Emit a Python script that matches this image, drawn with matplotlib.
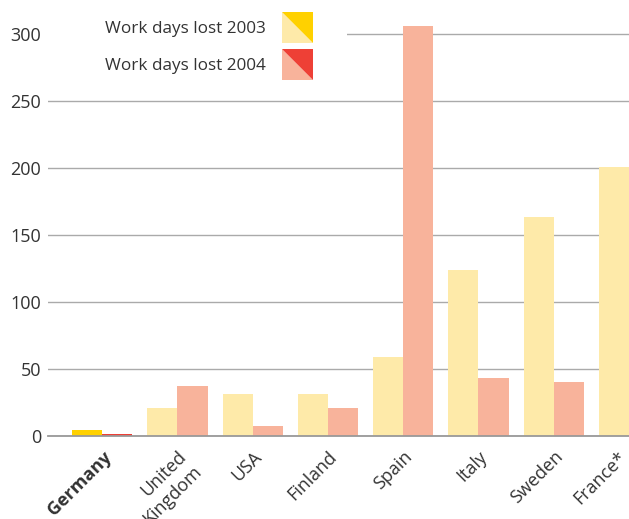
import numpy as np
import matplotlib
matplotlib.use("agg")
import matplotlib.pyplot as plt
import matplotlib.transforms as mtransforms
from matplotlib.patches import Polygon, Patch, Rectangle
from matplotlib.legend_handler import HandlerBase

plt.rcParams['font.family'] = ['Open Sans', 'DejaVu Sans']

countries = ["Germany", "United\nKingdom", "USA", "Finland", "Spain", "Italy", "Sweden", "France*"]
lost_2003 = [4.5, 21, 31, 31, 59, 124, 163.5, 201]
lost_2004 = [1.5, 37, 7.5, 21, 306, 43, 40, 0]

light03, dark03 = "#FEEAA9", "#FFD100"
light04, dark04 = "#F8B39B", "#EE4036"
txt = "#333333"
grey = "#aaaaaa"


class TriHandler(HandlerBase):
    def __init__(self, light, dark):
        super().__init__()
        self.light = light
        self.dark = dark

    def create_artists(self, legend, orig_handle, xdescent, ydescent,
                       width, height, fontsize, trans):
        x0, y0 = -xdescent, -ydescent
        x1, y1 = x0 + width, y0 + height
        lo = Polygon([[x0, y1], [x0, y0], [x1, y0]], closed=True,
                     fc=self.light, ec="none", transform=trans)
        up = Polygon([[x0, y1], [x1, y1], [x1, y0]], closed=True,
                     fc=self.dark, ec="none", transform=trans)
        return [lo, up]


fig = plt.figure(figsize=(6.29, 5.19), dpi=100)
ax = fig.add_axes([48 / 629, 1 - 436 / 519, 1 - 48 / 629, 429 / 519])

x = np.arange(len(countries))
w = 0.4
c03 = [dark03] + [light03] * (len(countries) - 1)
c04 = [dark04] + [light04] * (len(countries) - 1)
ax.bar(x - w / 2, lost_2003, w, color=c03, zorder=3)
ax.bar(x + w / 2, lost_2004, w, color=c04, zorder=3)

ax.set_xlim(-0.72, len(countries) - 1 - 0.035)
ax.set_ylim(0, 320)
ax.set_yticks(range(0, 301, 50))
ax.grid(axis="y", color=grey, linewidth=1, zorder=0)
ax.set_axisbelow(True)
for s in ["top", "right", "left"]:
    ax.spines[s].set_visible(False)
ax.spines["bottom"].set_color("#999999")
ax.spines["bottom"].set_linewidth(1.3)
ax.spines["bottom"].set_zorder(4)

ax.tick_params(axis="y", length=0, pad=5, labelsize=13, labelcolor=txt)
ax.tick_params(axis="x", length=0, pad=8.5)
ax.set_xticks(x)
ax.set_xticklabels(countries, rotation=45, ha="right", va="top",
                   rotation_mode="anchor", fontsize=13, color=txt)
labels = ax.get_xticklabels()
labels[0].set_fontweight("bold")
# last label nudged left so it stays inside the figure
labels[-1].set_transform(labels[-1].get_transform() +
                         mtransforms.ScaledTranslation(-12 / 100, 0, fig.dpi_scale_trans))

# white area behind the legend hides the top grid line
ax.add_patch(Rectangle((0, 0.9), (347 - 48) / 581, 0.1, transform=ax.transAxes,
                       fc="white", ec="none", zorder=1))

h1 = Patch(label="Work days lost 2003")
h2 = Patch(label="Work days lost 2004")
fig.legend(handles=[h1, h2], handler_map={h1: TriHandler(light03, dark03),
                                          h2: TriHandler(light04, dark04)},
           loc="upper right", bbox_to_anchor=(313 / 629, 1 - 12 / 519),
           frameon=False, markerfirst=False, borderpad=0, borderaxespad=0,
           handlelength=1.81, handleheight=2.41, handletextpad=0.94,
           labelspacing=0.38, fontsize=12.3, labelcolor=txt)

fig.savefig("out.png", dpi=100)
